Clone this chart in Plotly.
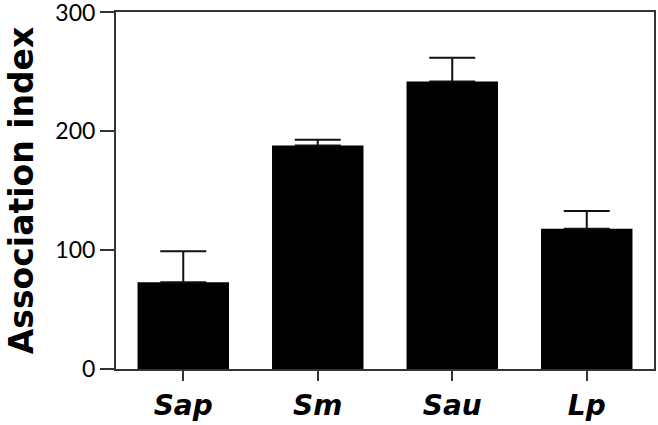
import plotly.graph_objects as go

categories = ["Sap", "Sm", "Sau", "Lp"]
means = [73, 188, 242, 118]
errors_plus = [26, 5, 20, 15]
y_ticks = [0, 100, 200, 300]

fig = go.Figure(go.Bar(
    x=categories, y=means,
    marker=dict(color="black", line=dict(width=0)),
    error_y=dict(type="data", array=errors_plus, symmetric=False,
                 arrayminus=[0]*len(means), color="#111", thickness=2, width=23),
))

axis_common = dict(showline=True, linecolor="#333", linewidth=2, mirror=True,
                   showgrid=False, zeroline=False, automargin=False)
fig.update_layout(
    template="none",
    width=658, height=425,
    margin=dict(l=116, r=4, t=12, b=56),
    paper_bgcolor="white", plot_bgcolor="white",
    bargap=0.32, showlegend=False,
    font=dict(family="Lato, DejaVu Sans, sans-serif", color="black"),
)
fig.update_xaxes(**axis_common, ticks="outside", ticklen=10, tickwidth=2, tickcolor="#333",
                 tickfont=dict(size=28, family="DejaVu Sans", weight="bold", style="italic"))
fig.update_yaxes(**axis_common, range=[0, 300.4], tickvals=y_ticks, ticks="outside",
                 ticklen=14, tickwidth=2, tickcolor="#333", ticklabeloverflow="allow",
                 tickfont=dict(size=23, family="Lato"),
                 title=dict(text="Association index", standoff=12,
                            font=dict(size=33, family="DejaVu Sans", weight="bold")))
fig.write_html("out.html", config={"displayModeBar": False},
               post_script="document.body.style.margin='0';")
